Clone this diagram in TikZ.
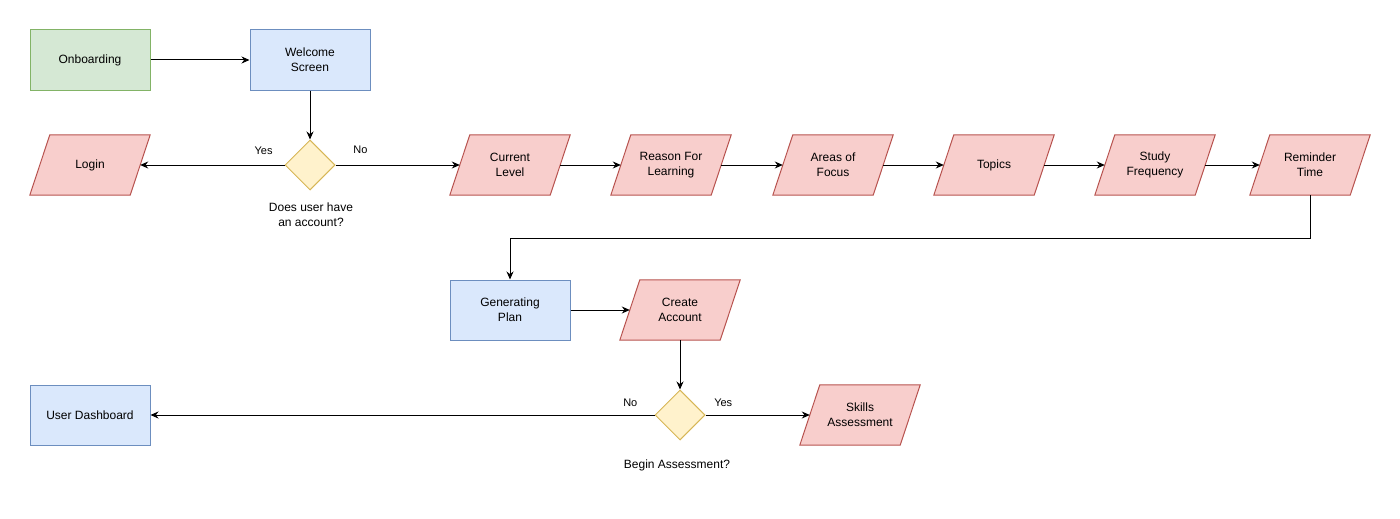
\documentclass[tikz,border=0pt]{standalone}
\usepackage{fontspec}
\setmainfont{Liberation Sans}
\usetikzlibrary{arrows.meta}
\usetikzlibrary{shapes.geometric}
\usetikzlibrary{backgrounds}

\definecolor{greenfill}{HTML}{D5E8D4}
\definecolor{greenline}{HTML}{82B366}
\definecolor{bluefill}{HTML}{DAE8FC}
\definecolor{blueline}{HTML}{6C8EBF}
\definecolor{redfill}{HTML}{F8CECC}
\definecolor{redline}{HTML}{B85450}
\definecolor{yellowfill}{HTML}{FFF2CC}
\definecolor{yellowline}{HTML}{D6B656}

\begin{document}
\begin{tikzpicture}[x=1pt,y=-1pt,
    font=\fontsize{12}{15}\selectfont,
    startbox/.style={rectangle,draw=greenline,fill=greenfill,line width=1pt,minimum width=120pt,minimum height=60pt,align=center},
    screenbox/.style={rectangle,draw=blueline,fill=bluefill,line width=1pt,minimum width=120pt,minimum height=60pt,align=center},
    iobox/.style={rectangle,minimum width=100pt,minimum height=60pt,inner sep=0pt,align=center},
    iofill/.style={draw=redline,fill=redfill,line width=1pt,line join=miter},
    question/.style={diamond,draw=yellowline,fill=yellowfill,line width=1pt,minimum width=50pt,minimum height=50pt,inner sep=0pt},
    qtext/.style={align=center,inner sep=0pt},
    flow/.style={line width=1pt,-{Stealth[length=8pt,width=7pt]}},
    choice/.style={font=\fontsize{11}{13}\selectfont,inner sep=0pt}]

    \useasboundingbox (0,0) rectangle (1400,519);

    % first rows
    \node[startbox] (onboard) at (90,60) {Onboarding};
    \node[screenbox] (welcome) at (310,60) {Welcome\\Screen};
    \node[question] (account) at (310,165) {};
    \node[qtext] (accountq) at (311,215) {Does user have\\an account?};
    \node[iobox] (login) at (90,165) {Login};
    \node[iobox] (level) at (510,165) {Current\\Level};
    \node[iobox] (reason) at (671,165) {Reason For\\Learning};
    \node[iobox] (focus) at (833,165) {Areas of\\Focus};
    \node[iobox] (topics) at (994,165) {Topics};
    \node[iobox] (freq) at (1155,165) {Study\\Frequency};
    \node[iobox] (remind) at (1310,165) {Reminder\\Time};

    % plan and assessment
    \node[screenbox] (plan) at (510,310) {Generating\\Plan};
    \node[iobox] (create) at (680,310) {Create\\Account};
    \node[question] (assess) at (680,415) {};
    \node[qtext] (assessq) at (677,465) {Begin Assessment?};
    \node[iobox] (skills) at (860,415) {Skills\\Assessment};
    \node[screenbox] (dash) at (90,415) {User Dashboard};

    % slanted boxes behind the text
    \begin{scope}[on background layer]
      \foreach \n in {login,level,reason,focus,topics,freq,remind,create,skills}
        \draw[iofill] ([xshift=-10pt]\n.south west) -- ([xshift=10pt]\n.north west)
          -- ([xshift=10pt]\n.north east) -- ([xshift=-10pt]\n.south east) -- cycle;
    \end{scope}

    % connectors
    \draw[flow] (onboard) -- (welcome);
    \draw[flow] (welcome) -- (account);
    \draw[flow] (account.west) -- node[choice,pos=0.145,above=10pt] {Yes} (login.east);
    \draw[flow] (account.east) -- node[choice,pos=0.2,above=11pt] {No} (level.west);
    \draw[flow] (level) -- (reason);
    \draw[flow] (reason) -- (focus);
    \draw[flow] (focus) -- (topics);
    \draw[flow] (topics) -- (freq);
    \draw[flow] (freq) -- (remind);
    \draw[flow] (remind.south) -- ++(0,43) -| (plan.north);
    \draw[flow] (plan) -- (create);
    \draw[flow] (create) -- (assess);
    \draw[flow] (assess.west) -- node[choice,pos=0.048,above=8pt] {No} (dash.east);
    \draw[flow] (assess.east) -- node[choice,pos=0.17,above=8pt] {Yes} (skills.west);
  \end{tikzpicture}
\end{document}
